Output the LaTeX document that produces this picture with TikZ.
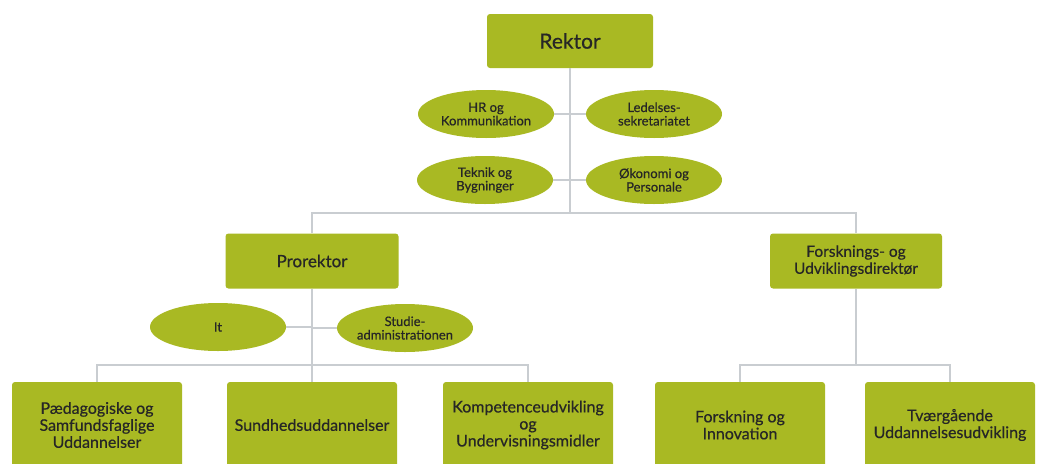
\documentclass[tikz,border=0pt]{standalone}
\usepackage{fontspec}
\setmainfont{Lato}[UprightFeatures={FakeBold=0.5}]
\usetikzlibrary{shapes.geometric}
\definecolor{boxgreen}{HTML}{A9B923}
\definecolor{linegray}{HTML}{C9CDD1}
\definecolor{txt}{HTML}{262626}
\begin{document}
\begin{tikzpicture}[x=1pt,y=-1pt,
  box/.style={fill=boxgreen, rounded corners=3pt, text=txt, align=center, inner sep=0pt},
  oval/.style={ellipse, fill=boxgreen, text=txt, align=center, inner sep=0pt,
    minimum width=136pt, minimum height=48pt, font=\fontsize{13}{13.5}\selectfont},
  bottombox/.style={box, minimum width=170pt, minimum height=86pt, font=\fontsize{16}{17}\selectfont},
  conn/.style={draw=linegray, line width=1.6pt}]
\useasboundingbox (0,0) rectangle (1043,463);
\clip (0,0) rectangle (1043,463);
\fill[white] (0,0) rectangle (1043,463);

% top
\node[box, minimum width=166pt, minimum height=54pt, font=\fontsize{21}{23}\selectfont] (rektor) at (570,41) {Rektor};
\node[oval] (hr) at (486,114) {HR og\\Kommunikation};
\node[oval] (led) at (654,114) {Ledelses-\\sekretariatet};
\node[oval] (tek) at (485,180) {Teknik og\\Bygninger};
\node[oval] (oko) at (654,180) {Økonomi og\\Personale};

% middle
\node[box, minimum width=173pt, minimum height=55pt, font=\fontsize{17}{19}\selectfont] (pro) at (312,261) {Prorektor};
\node[box, minimum width=172pt, minimum height=55pt, font=\fontsize{15.5}{17}\selectfont] (fud) at (856,261) {Forsknings- og\\Udviklingsdirektør};
\node[oval] (it) at (218,327) {It};
\node[oval] (stud) at (405,328) {Studie-\\administrationen};

% bottom
\node[bottombox] (paed) at (97,425) {Pædagogiske og\\Samfundsfaglige\\Uddannelser};
\node[bottombox] (sund) at (312,425) {Sundhedsuddannelser};
\node[bottombox] (komp) at (528,425) {Kompetenceudvikling\\og\\Undervisningsmidler};
\node[bottombox] (forsk) at (740,425) {Forskning og\\Innovation};
\node[bottombox] (tvaer) at (950,425) {Tværgående\\Uddannelsesudvikling};

% bus coordinates
\coordinate (bus1) at (570,213);
\coordinate (bus2) at (312,365);
\coordinate (bus3) at (856,365);

% connectors
\draw[conn] (rektor.south) -- (bus1);
\draw[conn] (hr.east) -- (hr.east -| rektor.south);
\draw[conn] (led.west) -- (led.west -| rektor.south);
\draw[conn] (tek.east) -- (tek.east -| rektor.south);
\draw[conn] (oko.west) -- (oko.west -| rektor.south);
\draw[conn] (pro.north) -- (pro.north |- bus1) -- (fud.north |- bus1) -- (fud.north);

\draw[conn] (pro.south) -- (bus2);
\draw[conn] (it.east) -- (it.east -| pro.south);
\draw[conn] (stud.west) -- (stud.west -| pro.south);
\draw[conn] (paed.north) -- (paed.north |- bus2) -- (komp.north |- bus2) -- (komp.north);
\draw[conn] (bus2) -- (sund.north);

\draw[conn] (fud.south) -- (bus3);
\draw[conn] (forsk.north) -- (forsk.north |- bus3) -- (tvaer.north |- bus3) -- (tvaer.north);
\end{tikzpicture}
\end{document}
